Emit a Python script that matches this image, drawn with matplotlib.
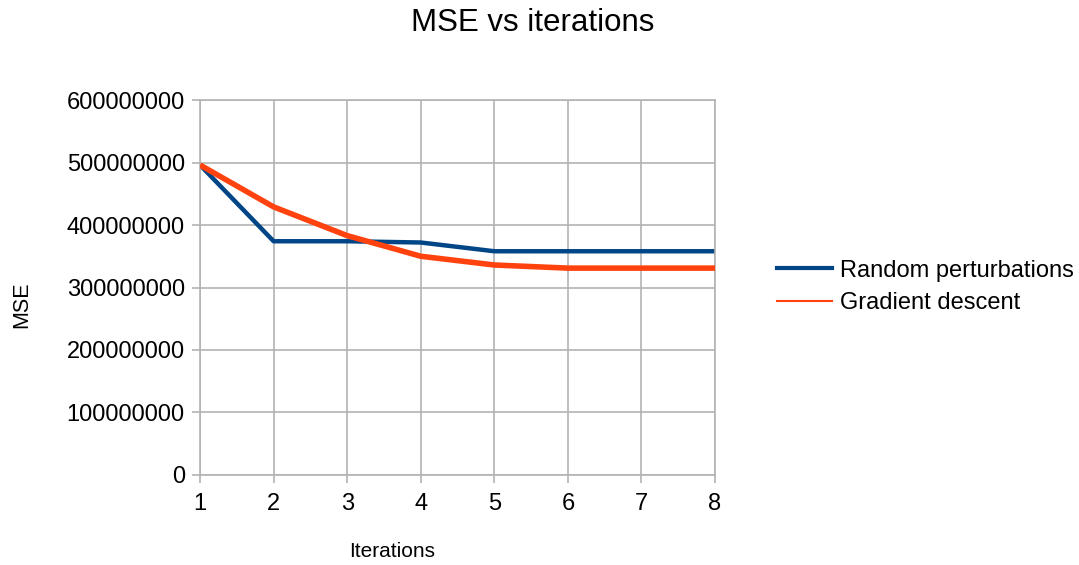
import matplotlib.pyplot as plt
from matplotlib.lines import Line2D
from matplotlib.ticker import FuncFormatter

plt.rcParams['font.family'] = ['Liberation Sans', 'DejaVu Sans']

# data
iterations = [1, 2, 3, 4, 5, 6, 7, 8]
random_perturbations = [496e6, 374e6, 374e6, 372e6, 358e6, 358e6, 358e6, 358e6]
gradient_descent = [496e6, 429e6, 383e6, 350e6, 336e6, 331e6, 331e6, 331e6]

blue = '#004586'
red = '#ff420e'
grey = '#b3b3b3'

fig = plt.figure(figsize=(10.79, 5.65), dpi=100)
ax = fig.add_axes([0.1854, 0.1593, 0.4773, 0.6637])

ax.plot(iterations, gradient_descent, color=red, linewidth=4, solid_capstyle='butt', zorder=3)
ax.plot(iterations, random_perturbations, color=blue, linewidth=3.2, solid_capstyle='butt', zorder=2)

ax.set_xlim(1, 8)
ax.set_ylim(0, 600e6)
ax.set_xticks(iterations)
ax.set_yticks(range(0, 600000001, 100000000))
ax.yaxis.set_major_formatter(FuncFormatter(lambda v, p: f"{int(v)}"))

ax.grid(True, color=grey, linewidth=1.2)
ax.set_axisbelow(True)
for s in ax.spines.values():
    s.set_color(grey)
    s.set_linewidth(1.2)
ax.tick_params(colors=grey, labelcolor='black', labelsize=17, length=6, width=1.2, direction='out')
ax.tick_params(axis='x', pad=7)
ax.tick_params(axis='y', pad=5)

ax.set_xlabel('Iterations', fontsize=15)
ax.xaxis.set_label_coords(0.373, -0.18)
ax.set_ylabel('MSE', fontsize=15.5)
ax.yaxis.set_label_coords(-0.326, 0.453)

fig.suptitle('MSE vs iterations', fontsize=22.5, x=0.494, y=0.985)

handles = [Line2D([], [], color=blue, linewidth=3),
           Line2D([], [], color=red, linewidth=1.5)]
fig.legend(handles, ['Random perturbations', 'Gradient descent'],
           loc='center left', bbox_to_anchor=(0.70, 0.492), frameon=False,
           fontsize=17, handlelength=2.35, handletextpad=0.35, labelspacing=0.45)

plt.savefig('out.png', dpi=100)
